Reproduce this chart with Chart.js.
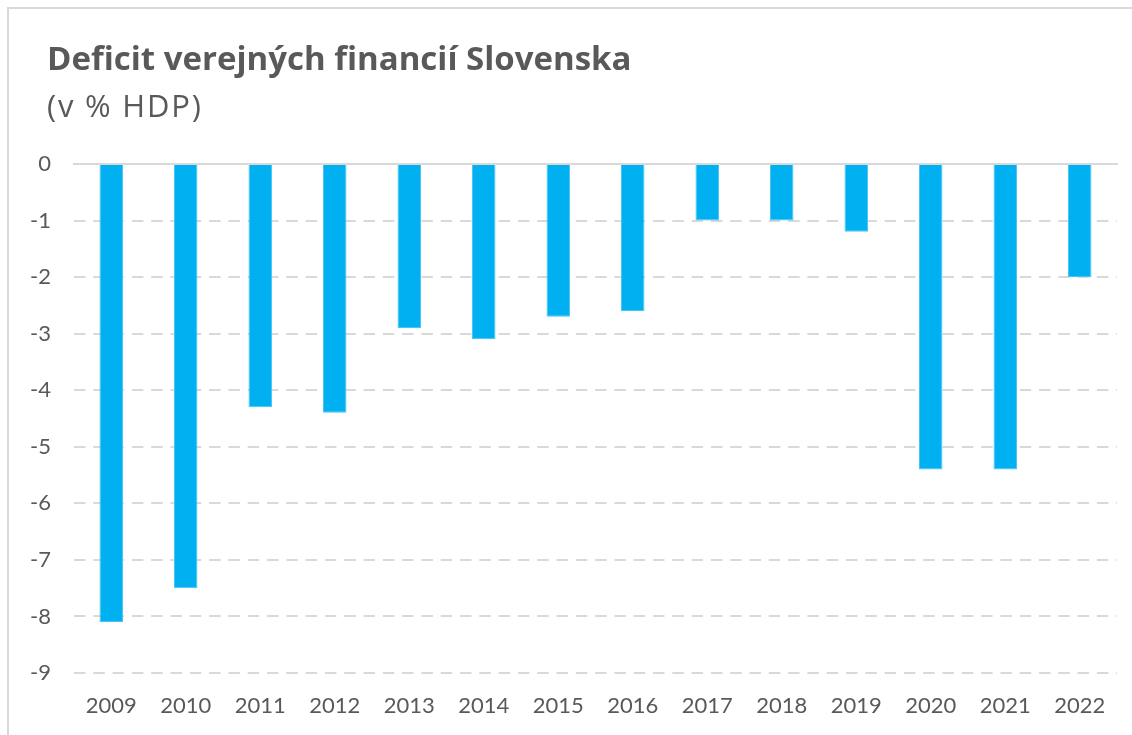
<!DOCTYPE html>
<html>
<head>
<meta charset="utf-8">
<script src="https://cdn.jsdelivr.net/npm/chart.js@4.4.1/dist/chart.umd.min.js"></script>
<style>
  html, body { margin: 0; padding: 0; background: #ffffff; overflow: hidden; }
  #wrap { position: relative; width: 1132px; height: 735px; }
  #frame { position: absolute; left: 7px; top: 7px; width: 1200px; height: 800px;
           border: 2px solid #d9d9d9; box-sizing: border-box; pointer-events: none; }
  canvas { position: absolute; left: 0; top: 0; }
  .ttl { position: absolute; left: 47px; margin: 0; color: #595959; white-space: nowrap;
         font-family: "Open Sans", Lato, sans-serif; line-height: 1; }
  #title { top: 41px; font-size: 33px; font-weight: bold; }
  #subtitle { top: 90px; font-size: 31px; font-weight: normal; letter-spacing: 1.8px; }
</style>
</head>
<body>
<div id="wrap">
  <canvas id="c" width="1132" height="735"></canvas>
  <div id="frame"></div>
  <div id="title" class="ttl"></div>
  <div id="subtitle" class="ttl"></div>
</div>
<script>
const titleText = 'Deficit verejných financií Slovenska';
const subtitleText = '(v % HDP)';
const years = ['2009','2010','2011','2012','2013','2014','2015','2016','2017','2018','2019','2020','2021','2022'];
const deficit = [-8.1, -7.5, -4.3, -4.4, -2.9, -3.1, -2.7, -2.6, -1.0, -1.0, -1.2, -5.4, -5.4, -2.0];
const yMin = -9;
const yMax = 0;
const yStep = 1;

document.getElementById('title').textContent = titleText;
document.getElementById('subtitle').textContent = subtitleText;

const FONT = 'Lato, "Open Sans", "Liberation Sans", sans-serif';
const TEXT = '#595959';
const GRID = '#d9d9d9';

new Chart(document.getElementById('c'), {
  type: 'bar',
  data: {
    labels: years,
    datasets: [{
      data: deficit,
      backgroundColor: '#00B0F0',
      borderColor: '#45c5f4',
      borderWidth: 1,
      barPercentage: 0.315,
      categoryPercentage: 1.0
    }]
  },
  options: {
    responsive: false,
    animation: false,
    devicePixelRatio: 1,
    layout: { padding: { left: 20, right: 15, top: 164, bottom: 16 } },
    plugins: {
      legend: { display: false },
      tooltip: { enabled: false },
      title: { display: false },
      subtitle: { display: false }
    },
    scales: {
      x: {
        type: 'category',
        afterFit: (s) => { s.height = 46; },
        grid: { display: false, drawTicks: false },
        border: { display: false },
        ticks: { color: TEXT, font: { family: FONT, size: 22 }, padding: 19.5, maxRotation: 0, autoSkip: false }
      },
      x2: {
        type: 'category',
        position: 'top',
        grid: { display: false, drawTicks: false },
        border: { display: true, color: GRID, width: 2 },
        ticks: { display: false }
      },
      y: {
        min: yMin,
        max: yMax,
        afterFit: (s) => { s.width = 54; },
        grid: {
          drawTicks: false,
          lineWidth: 2,
          color: (ctx) => (ctx.tick && ctx.tick.value === 0) ? 'rgba(0,0,0,0)' : GRID
        },
        border: { display: false, dash: [11.5, 7.8] },
        ticks: { stepSize: yStep, color: TEXT, font: { family: FONT, size: 22 }, padding: 23 }
      }
    }
  }
});
</script>
</body>
</html>
